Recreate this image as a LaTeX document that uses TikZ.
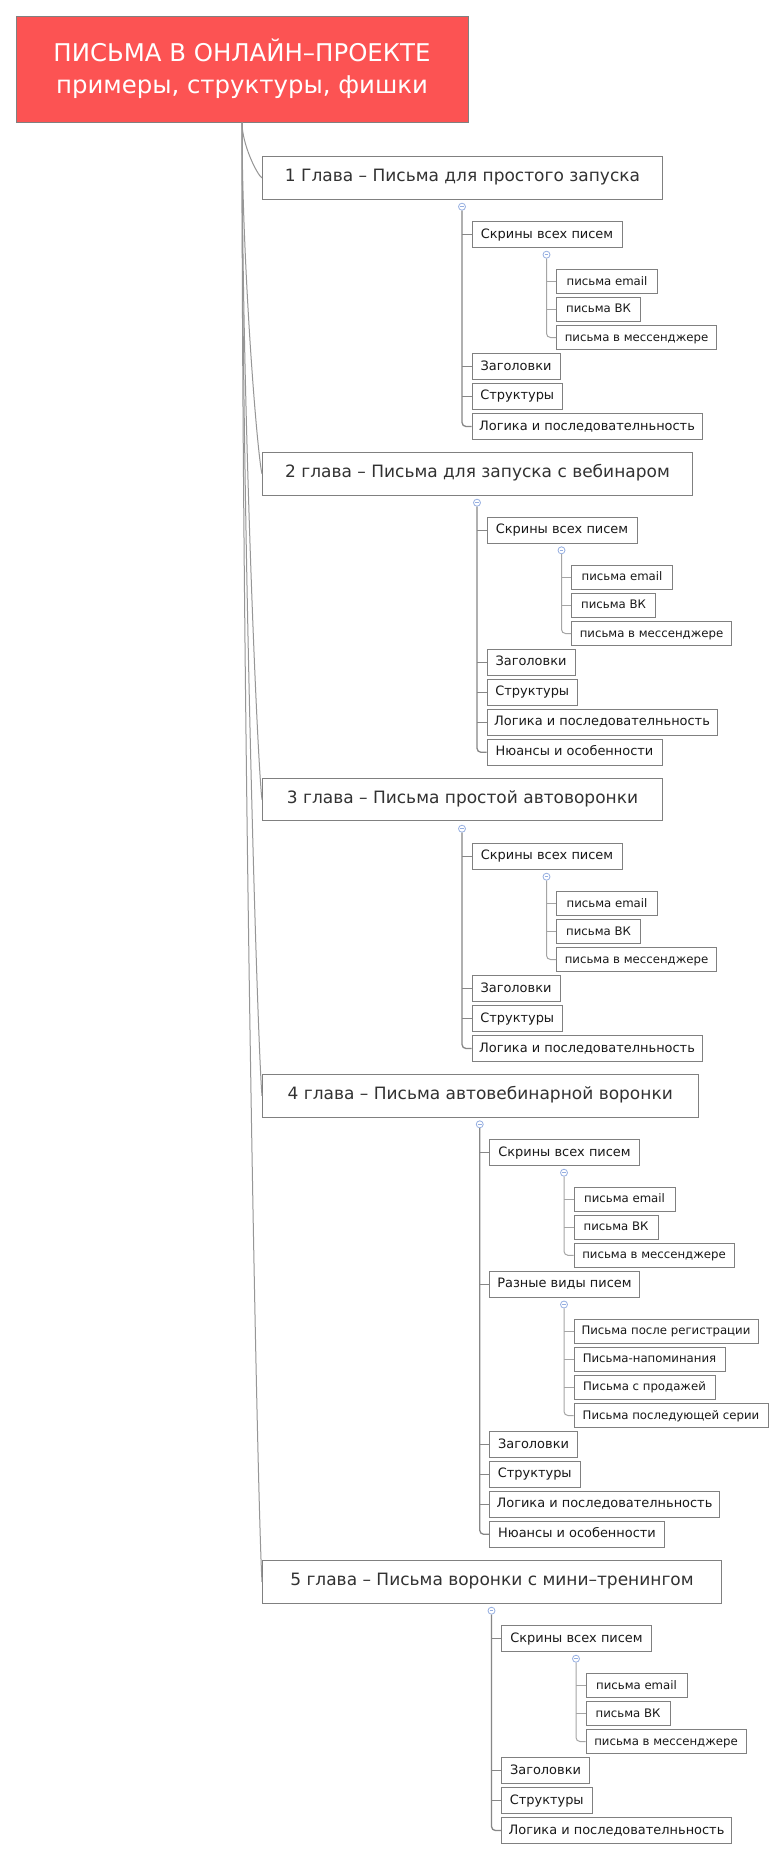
\documentclass[tikz,border=0pt]{standalone}
\usepackage{fontspec}
\setmainfont{DejaVu Sans}
\usetikzlibrary{calc}
\newdimen\pxu \pxu=0.75pt
\definecolor{rootred}{RGB}{252,83,83}
\definecolor{bordc}{RGB}{128,128,128}
\definecolor{chtext}{RGB}{50,50,50}
\definecolor{leaftext}{RGB}{25,25,25}
\definecolor{togc}{RGB}{150,175,225}
\definecolor{linec}{RGB}{135,135,135}
\definecolor{linel}{RGB}{165,165,165}
\definecolor{rootl}{RGB}{150,150,150}
\newcommand{\mn}{\textcolor{togc}{\rule{3.6\pxu}{0.6pt}}}
\begin{document}
\begin{tikzpicture}[x=0.75pt,y=-0.75pt,
 base/.style={draw=bordc, line width=1\pxu, inner sep=0pt, anchor=west, fill=white},
 rootbox/.style={draw=bordc, line width=1\pxu, fill=rootred, text=white, minimum width=452\pxu, minimum height=106\pxu, align=center, font=\fontsize{18.3}{24}\selectfont, inner sep=0pt},
 chbox/.style={base, minimum height=42.5\pxu, text=chtext, font=\fontsize{12.75}{15}\selectfont, text height=0.73em, text depth=0.2em},
 l2box/.style={base, minimum height=26\pxu, text=leaftext, font=\fontsize{9.7}{12}\selectfont, text height=0.73em, text depth=0.2em},
 l3box/.style={base, minimum height=24\pxu, text=leaftext, font=\fontsize{8.8}{11}\selectfont, text height=0.73em, text depth=0.2em},
 tog/.style={circle, draw=togc, fill=white, line width=0.6pt, minimum size=7\pxu, inner sep=0pt},
 l2line/.style={draw=linec, line width=1.3\pxu},
 l3line/.style={draw=linel, line width=1\pxu},
 rline/.style={draw=rootl, line width=1\pxu},
]
\fill[white] (0,0) rectangle (782,1860);
\useasboundingbox (0,0) rectangle (782,1860);

% root
\node[rootbox] (root) at (242,69) {ПИСЬМА В ОНЛАЙН–ПРОЕКТЕ\\примеры, структуры, фишки};

% chapters
\node[chbox, minimum width=400\pxu] (ch1) at (262,178) {1 Глава – Письма для простого запуска};
\node[chbox, minimum width=430\pxu] (ch2) at (262,473.9) {2 глава – Письма для запуска с вебинаром};
\node[chbox, minimum width=400\pxu] (ch3) at (262,799.7) {3 глава – Письма простой автоворонки};
\node[chbox, minimum width=435.5\pxu] (ch4) at (262,1095.8) {4 глава – Письма автовебинарной воронки};
\node[chbox, minimum width=459\pxu] (ch5) at (262,1582) {5 глава – Письма воронки с мини–тренингом};

% root connectors
\draw[rline] (root.south) .. controls (242,144.4) and (257,174.6) .. (ch1.west);
\draw[rline] (root.south) .. controls (242,262.8) and (257,452.8) .. (ch2.west);
\draw[rline] (root.south) .. controls (242,393) and (257,759) .. (ch3.west);
\draw[rline] (root.south) .. controls (242,511.6) and (257,1037.4) .. (ch4.west);
\draw[rline] (root.south) .. controls (242,706) and (257,1494) .. (ch5.west);

% ---------- chapter 1
\node[l2box, minimum width=150\pxu] (ch1a) at (471.5,234.5) {Скрины всех писем};
\node[l3box, minimum width=101\pxu] (ch1a1) at (556,281.5) {письма email};
\node[l3box, minimum width=84\pxu] (ch1a2) at (556,309.3) {письма ВК};
\node[l3box, minimum width=160\pxu] (ch1a3) at (556,337.5) {письма в мессенджере};
\node[l2box, minimum width=88\pxu] (ch1b) at (471.5,366.5) {Заголовки};
\node[l2box, minimum width=90.5\pxu] (ch1c) at (471.5,396.3) {Структуры};
\node[l2box, minimum width=230\pxu] (ch1d) at (471.5,426.5) {Логика и последователньность};
\node[tog] (t1) at (462,206.7) {\mn};
\node[tog] (t1a) at (546.5,254.7) {\mn};
\draw[l2line, rounded corners=4\pxu] (t1.south) |- (ch1d.west);
\foreach \n in {a,b,c} \draw[l2line] (t1.south |- ch1\n.west) -- (ch1\n.west);
\draw[l3line, rounded corners=4\pxu] (t1a.south) |- (ch1a3.west);
\foreach \n in {1,2} \draw[l3line] (t1a.south |- ch1a\n.west) -- (ch1a\n.west);

% ---------- chapter 2
\node[l2box, minimum width=150\pxu] (ch2a) at (486.5,530.3) {Скрины всех писем};
\node[l3box, minimum width=101\pxu] (ch2a1) at (571,577.3) {письма email};
\node[l3box, minimum width=84\pxu] (ch2a2) at (571,605.3) {письма ВК};
\node[l3box, minimum width=160\pxu] (ch2a3) at (571,633.5) {письма в мессенджере};
\node[l2box, minimum width=88\pxu] (ch2b) at (486.5,662.3) {Заголовки};
\node[l2box, minimum width=90.5\pxu] (ch2c) at (486.5,692.3) {Структуры};
\node[l2box, minimum width=230\pxu] (ch2d) at (486.5,722.3) {Логика и последователньность};
\node[l2box, minimum width=175\pxu] (ch2e) at (486.5,752.3) {Нюансы и особенности};
\node[tog] (t2) at (477,502.7) {\mn};
\node[tog] (t2a) at (561.5,550.3) {\mn};
\draw[l2line, rounded corners=4\pxu] (t2.south) |- (ch2e.west);
\foreach \n in {a,b,c,d} \draw[l2line] (t2.south |- ch2\n.west) -- (ch2\n.west);
\draw[l3line, rounded corners=4\pxu] (t2a.south) |- (ch2a3.west);
\foreach \n in {1,2} \draw[l3line] (t2a.south |- ch2a\n.west) -- (ch2a\n.west);

% ---------- chapter 3
\node[l2box, minimum width=150\pxu] (ch3a) at (471.5,856.3) {Скрины всех писем};
\node[l3box, minimum width=101\pxu] (ch3a1) at (556,903.5) {письма email};
\node[l3box, minimum width=84\pxu] (ch3a2) at (556,931.5) {письма ВК};
\node[l3box, minimum width=160\pxu] (ch3a3) at (556,959.5) {письма в мессенджере};
\node[l2box, minimum width=88\pxu] (ch3b) at (471.5,988.5) {Заголовки};
\node[l2box, minimum width=90.5\pxu] (ch3c) at (471.5,1018.5) {Структуры};
\node[l2box, minimum width=230\pxu] (ch3d) at (471.5,1048.5) {Логика и последователньность};
\node[tog] (t3) at (462,828.7) {\mn};
\node[tog] (t3a) at (546.5,876.7) {\mn};
\draw[l2line, rounded corners=4\pxu] (t3.south) |- (ch3d.west);
\foreach \n in {a,b,c} \draw[l2line] (t3.south |- ch3\n.west) -- (ch3\n.west);
\draw[l3line, rounded corners=4\pxu] (t3a.south) |- (ch3a3.west);
\foreach \n in {1,2} \draw[l3line] (t3a.south |- ch3a\n.west) -- (ch3a\n.west);

% ---------- chapter 4
\node[l2box, minimum width=150\pxu] (ch4a) at (489,1152.5) {Скрины всех писем};
\node[l3box, minimum width=101\pxu] (ch4a1) at (573.5,1199.3) {письма email};
\node[l3box, minimum width=84\pxu] (ch4a2) at (573.5,1227.3) {письма ВК};
\node[l3box, minimum width=160\pxu] (ch4a3) at (573.5,1255.3) {письма в мессенджере};
\node[l2box, minimum width=150\pxu] (ch4b) at (489,1284.3) {Разные виды писем};
\node[l3box, minimum width=184\pxu] (ch4b1) at (573.5,1331.3) {Письма после регистрации};
\node[l3box, minimum width=151\pxu] (ch4b2) at (573.5,1359.3) {Письма-напоминания};
\node[l3box, minimum width=141\pxu] (ch4b3) at (573.5,1387.3) {Письма с продажей};
\node[l3box, minimum width=194\pxu] (ch4b4) at (573.5,1415.5) {Письма последующей серии};
\node[l2box, minimum width=88\pxu] (ch4c) at (489,1444.5) {Заголовки};
\node[l2box, minimum width=90.5\pxu] (ch4d) at (489,1474.3) {Структуры};
\node[l2box, minimum width=230\pxu] (ch4e) at (489,1504.3) {Логика и последователньность};
\node[l2box, minimum width=175\pxu] (ch4f) at (489,1534.3) {Нюансы и особенности};
\node[tog] (t4) at (479.75,1124.3) {\mn};
\node[tog] (t4a) at (564,1172.7) {\mn};
\node[tog] (t4b) at (564,1304.5) {\mn};
\draw[l2line, rounded corners=4\pxu] (t4.south) |- (ch4f.west);
\foreach \n in {a,b,c,d,e} \draw[l2line] (t4.south |- ch4\n.west) -- (ch4\n.west);
\draw[l3line, rounded corners=4\pxu] (t4a.south) |- (ch4a3.west);
\foreach \n in {1,2} \draw[l3line] (t4a.south |- ch4a\n.west) -- (ch4a\n.west);
\draw[l3line, rounded corners=4\pxu] (t4b.south) |- (ch4b4.west);
\foreach \n in {1,2,3} \draw[l3line] (t4b.south |- ch4b\n.west) -- (ch4b\n.west);

% ---------- chapter 5
\node[l2box, minimum width=150\pxu] (ch5a) at (501,1638.5) {Скрины всех писем};
\node[l3box, minimum width=101\pxu] (ch5a1) at (585.5,1685.5) {письма email};
\node[l3box, minimum width=84\pxu] (ch5a2) at (585.5,1713.5) {письма ВК};
\node[l3box, minimum width=160\pxu] (ch5a3) at (585.5,1741.5) {письма в мессенджере};
\node[l2box, minimum width=88\pxu] (ch5b) at (501,1770.5) {Заголовки};
\node[l2box, minimum width=90.5\pxu] (ch5c) at (501,1800.5) {Структуры};
\node[l2box, minimum width=230\pxu] (ch5d) at (501,1830.5) {Логика и последователньность};
\node[tog] (t5) at (491.5,1610.7) {\mn};
\node[tog] (t5a) at (576,1658.7) {\mn};
\draw[l2line, rounded corners=4\pxu] (t5.south) |- (ch5d.west);
\foreach \n in {a,b,c} \draw[l2line] (t5.south |- ch5\n.west) -- (ch5\n.west);
\draw[l3line, rounded corners=4\pxu] (t5a.south) |- (ch5a3.west);
\foreach \n in {1,2} \draw[l3line] (t5a.south |- ch5a\n.west) -- (ch5a\n.west);
\end{tikzpicture}
\end{document}
